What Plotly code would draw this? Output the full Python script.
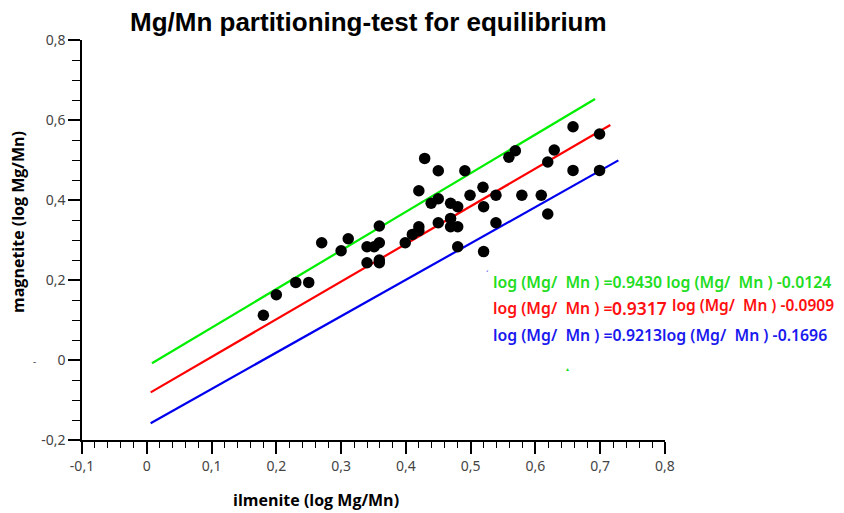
import plotly.graph_objects as go

# ---- data ----
ilmenite = [0.180, 0.200, 0.230, 0.250, 0.270, 0.300, 0.311, 0.340, 0.340, 0.351,
            0.359, 0.359, 0.359, 0.359, 0.399, 0.410, 0.420, 0.420, 0.420, 0.429,
            0.439, 0.450, 0.450, 0.450, 0.469, 0.469, 0.469, 0.480, 0.480, 0.480,
            0.491, 0.499, 0.519, 0.520, 0.539, 0.539, 0.520, 0.559, 0.569, 0.579,
            0.609, 0.619, 0.619, 0.629, 0.658, 0.658, 0.699, 0.699]
magnetite = [0.112, 0.163, 0.194, 0.194, 0.293, 0.273, 0.303, 0.243, 0.283, 0.283,
             0.293, 0.250, 0.243, 0.335, 0.293, 0.314, 0.333, 0.323, 0.423, 0.504,
             0.392, 0.403, 0.473, 0.343, 0.392, 0.354, 0.333, 0.383, 0.333, 0.283,
             0.473, 0.412, 0.432, 0.383, 0.412, 0.343, 0.271, 0.507, 0.523, 0.412,
             0.412, 0.365, 0.495, 0.525, 0.583, 0.474, 0.565, 0.474]

green_x = [0.008, 0.692]
green_y = [-0.008, 0.6525]
red_x = [0.006, 0.7156]
red_y = [-0.081, 0.5875]
blue_x = [0.006, 0.728]
blue_y = [-0.158, 0.499]

eq_green = "log (Mg/  Mn ) =0.9430 log (Mg/  Mn ) -0.0124"
eq_red_a1 = "log (Mg/  Mn ) ="
eq_red_a2 = "0.9317"
eq_red_b = "log (Mg/  Mn ) -0.0909"
eq_blue = "log (Mg/  Mn ) =0.9213log (Mg/  Mn ) -0.1696"

x_ticks = [-0.1, 0, 0.1, 0.2, 0.3, 0.4, 0.5, 0.6, 0.7, 0.8]
x_ticktext = ["-0,1", "0", "0,1", "0,2", "0,3", "0,4", "0,5", "0,6", "0,7", "0,8"]
y_ticks = [-0.2, 0, 0.2, 0.4, 0.6, 0.8]
y_ticktext = ["-0,2", "0", "0,2", "0,4", "0,6", "0,8"]

title = "Mg/Mn partitioning-test for equilibrium"
x_title = "ilmenite (log Mg/Mn)"
y_title = "magnetite (log Mg/Mn)"

OFF = 8  # page body margin
W, H = 844 - OFF, 513 - OFF
# plot area in page pixels: x 82..665, y 40..440
L, R, T, B = 82 - OFF, 844 - 665, 40 - OFF, 513 - 440

fig = go.Figure()
fig.add_trace(go.Scatter(x=green_x, y=green_y, mode="lines",
                         line=dict(color="#00ee00", width=2.2), showlegend=False))
fig.add_trace(go.Scatter(x=red_x, y=red_y, mode="lines",
                         line=dict(color="#ff0000", width=2.2), showlegend=False))
fig.add_trace(go.Scatter(x=blue_x, y=blue_y, mode="lines",
                         line=dict(color="#0000ee", width=2.2), showlegend=False))
fig.add_trace(go.Scatter(x=ilmenite, y=magnetite, mode="markers",
                         marker=dict(color="black", size=11.5), showlegend=False))

tickfont = dict(family="Noto Sans", size=14, color="#444444")
fig.update_xaxes(range=[-0.1, 0.8], tickvals=x_ticks, ticktext=x_ticktext,
                 showgrid=False, zeroline=False, showline=True, linecolor="black",
                 linewidth=1.5, ticks="outside", ticklen=12, tickwidth=1.5,
                 tickcolor="black", tickfont=tickfont,
                 minor=dict(dtick=0.02, ticks="outside", ticklen=6, tickwidth=1.2,
                            tickcolor="black", showgrid=False))
fig.update_yaxes(range=[-0.2, 0.8], tickvals=y_ticks, ticktext=y_ticktext,
                 showgrid=False, zeroline=False, showline=True, linecolor="black",
                 linewidth=1.5, ticks="outside", ticklen=12, tickwidth=1.5,
                 tickcolor="black", tickfont=tickfont,
                 minor=dict(dtick=0.05, ticks="outside", ticklen=8, tickwidth=1.2,
                            tickcolor="black", showgrid=False))

# page pixel -> paper coordinate helpers
def px_x(p):
    return (p - OFF - L) / (W - L - R)

def px_y(p):
    return (H - B - (p - OFF)) / (H - T - B)

def ann(text, x, y, font, xanchor="left", angle=0):
    return dict(text=text, x=px_x(x), y=px_y(y), xref="paper", yref="paper",
                xanchor=xanchor, yanchor="middle", showarrow=False,
                textangle=angle, font=font, borderpad=0)

eqsize = 15.8
red = "#ff1010"
annots = [
    ann("<b>" + title + "</b>", 368, 22,
        dict(family="Liberation Sans", size=26, color="black"), "center"),
    ann("<b>" + x_title + "</b>", 316, 500,
        dict(family="Open Sans", size=16, color="black"), "center"),
    ann("<b>" + y_title + "</b>", 18, 222,
        dict(family="Open Sans", size=16, color="black"), "center", -90),
    ann(eq_green, 492, 282,
        dict(family="Noto Sans", size=eqsize, color="#22dd22", weight=600)),
    ann(eq_red_a1, 492, 308,
        dict(family="Noto Sans", size=eqsize, color=red, weight=600)),
    ann(eq_red_a2, 611, 308,
        dict(family="Noto Sans", size=17.5, color=red, weight=600)),
    ann(eq_red_b, 671, 305,
        dict(family="Noto Sans", size=15.5, color=red, weight=600)),
    ann(eq_blue, 492, 335,
        dict(family="Noto Sans", size=eqsize, color="#1a1aee", weight=600)),
    ann("-", 34, 361, dict(family="Noto Sans", size=10, color="#555555"), "center"),
    ann("ˏ", 487, 266, dict(family="Noto Sans", size=9, color="#3333ee"), "center"),
    ann("▴", 567, 368, dict(family="DejaVu Sans", size=6, color="#22dd22"), "center"),
]

fig.update_layout(width=W, height=H, margin=dict(l=L, r=R, t=T, b=B),
                  plot_bgcolor="white", paper_bgcolor="white",
                  annotations=annots, showlegend=False)

fig.write_html("out.html")
